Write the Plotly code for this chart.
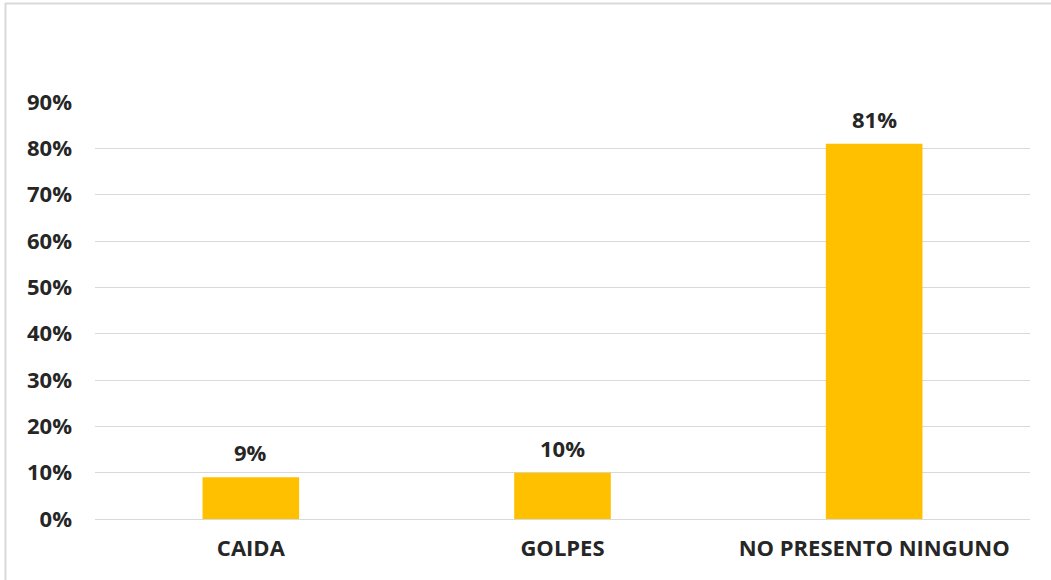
import plotly.graph_objects as go

categories = ["CAIDA", "GOLPES", "NO PRESENTO NINGUNO"]
values = [0.09, 0.10, 0.81]
tick_vals = [0, 0.1, 0.2, 0.3, 0.4, 0.5, 0.6, 0.7, 0.8, 0.9]
tick_text = ["0%", "10%", "20%", "30%", "40%", "50%", "60%", "70%", "80%", "90%"]
labels = ["9%", "10%", "81%"]

W, H = 1051, 580
L, R, T, B = 95, 21, 102, 61
FONT = "Open Sans"
TXT = "#262626"
FS = 22

fig = go.Figure()
fig.add_trace(go.Bar(
    x=categories, y=values, marker=dict(color="#FFC000", line=dict(width=0)),
    width=0.31, hoverinfo="skip",
))

for c, v, t in zip(categories, values, labels):
    fig.add_annotation(x=c, y=v, text=t, showarrow=False, yanchor="bottom",
                       yshift=8, font=dict(family=FONT, size=FS, color=TXT, weight="bold"))

pw = W - L - R
ph = H - T - B
# frame (top and left edges)
fig.add_shape(type="line", xref="paper", yref="paper",
              x0=(5 - L) / pw, x1=(W - L) / pw, y0=(H - B - 3.5) / ph, y1=(H - B - 3.5) / ph,
              line=dict(color="#d9d9d9", width=2))
fig.add_shape(type="line", xref="paper", yref="paper",
              x0=(5.5 - L) / pw, x1=(5.5 - L) / pw, y0=(H - B - 3) / ph, y1=-B / ph,
              line=dict(color="#d9d9d9", width=2))

fig.update_layout(
    width=W, height=H, margin=dict(l=L, r=R, t=T, b=B),
    paper_bgcolor="white", plot_bgcolor="white", showlegend=False,
    font=dict(family=FONT, color=TXT),
)
fig.update_xaxes(
    range=[-0.5, 2.5], showgrid=False, showline=False, zeroline=False,
    tickfont=dict(family=FONT, size=FS, color=TXT, weight="bold"),
    ticks="", ticklabelstandoff=14,
)
fig.update_yaxes(
    range=[0, 0.9], tickvals=tick_vals, ticktext=tick_text,
    showgrid=True, gridcolor="#d9d9d9", gridwidth=1,
    zeroline=True, zerolinecolor="#d9d9d9", zerolinewidth=1,
    showline=False, ticks="",
    tickfont=dict(family=FONT, size=FS, color=TXT, weight="bold"),
    ticklabelstandoff=22,
)

fig.write_html("out.html", config={"displayModeBar": False},
               post_script="document.body.style.margin='0px';")
